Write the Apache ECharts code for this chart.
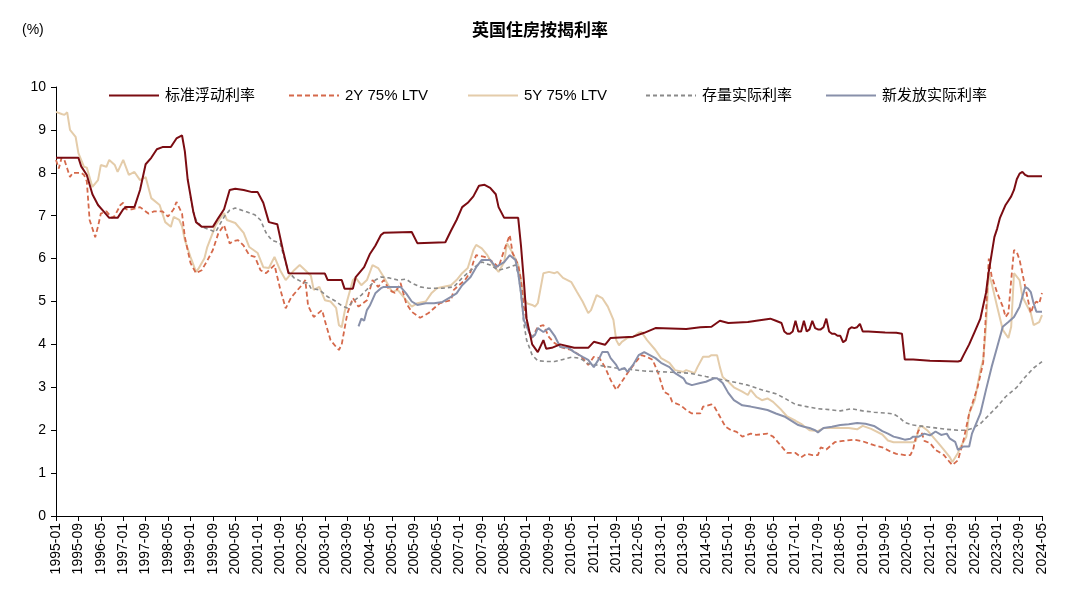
<!DOCTYPE html>
<html>
<head>
<meta charset="utf-8">
<script src="https://cdn.jsdelivr.net/npm/echarts@6/dist/echarts.min.js"></script>
<style>
html,body{margin:0;padding:0;background:#fff;}
#chart{width:1080px;height:604px;}
</style>
</head>
<body>
<div id="chart"></div>
<script>
// Monthly category labels 1995-01 .. 2024-05
const months = [];
for (let y = 1995; y <= 2024; y++) {
  for (let m = 1; m <= 12; m++) {
    if (y === 2024 && m > 5) break;
    months.push(y + '-' + (m < 10 ? '0' + m : m));
  }
}

const seriesNames = ['标准浮动利率', '2Y 75% LTV', '5Y 75% LTV', '存量实际利率', '新发放实际利率'];

// 标准浮动利率
const svr = [
['1995-01',8.35],['1995-09',8.35],['1995-10',8.15],['1995-12',7.95],['1996-02',7.5],['1996-04',7.25],['1996-06',7.1],['1996-08',6.95],['1996-11',6.95],
['1997-01',7.15],['1997-02',7.2],['1997-05',7.2],['1997-07',7.6],['1997-09',8.2],['1997-11',8.35],['1998-01',8.55],['1998-03',8.6],['1998-06',8.6],['1998-08',8.8],['1998-10',8.87],['1998-11',8.5],['1998-12',7.85],
['1999-02',7.1],['1999-03',6.85],['1999-05',6.74],['1999-09',6.74],['1999-11',6.95],['2000-01',7.15],['2000-03',7.6],['2000-05',7.63],['2000-08',7.6],['2000-11',7.55],['2001-01',7.55],['2001-03',7.3],['2001-05',6.85],['2001-08',6.8],['2001-10',6.2],['2001-12',5.66],
['2003-01',5.65],['2003-02',5.5],['2003-07',5.5],['2003-08',5.3],['2003-11',5.3],['2003-12',5.57],['2004-03',5.8],['2004-05',6.1],['2004-07',6.3],['2004-09',6.55],['2004-10',6.6],['2005-08',6.62],['2005-10',6.36],
['2006-08',6.38],['2006-10',6.65],['2006-12',6.9],['2007-02',7.2],['2007-04',7.3],['2007-06',7.45],['2007-08',7.7],['2007-10',7.72],['2007-12',7.65],['2008-02',7.5],['2008-03',7.2],['2008-05',6.95],['2008-10',6.95],['2008-11',6.3],['2008-12',5.5],
['2009-01',4.6],['2009-03',4.0],['2009-05',3.82],['2009-07',4.1],['2009-08',3.9],['2009-10',3.92],['2010-01',4.0],['2010-06',3.92],['2010-11',3.92],['2011-01',4.06],['2011-05',3.99],['2011-07',4.15],['2012-03',4.18],['2012-07',4.27],['2012-11',4.38],
['2013-10',4.36],['2014-03',4.4],['2014-07',4.41],['2014-10',4.55],['2015-01',4.5],['2015-08',4.52],['2015-11',4.55],['2016-04',4.6],['2016-06',4.55],['2016-08',4.5],['2016-09',4.3],['2016-10',4.25],['2016-11',4.25],['2016-12',4.3],
['2017-01',4.55],['2017-02',4.3],['2017-03',4.3],['2017-04',4.55],['2017-05',4.3],['2017-06',4.35],['2017-07',4.55],['2017-08',4.38],['2017-09',4.35],['2017-10',4.35],['2017-11',4.4],['2017-12',4.6],
['2018-01',4.3],['2018-02',4.25],['2018-03',4.25],['2018-04',4.2],['2018-05',4.2],['2018-06',4.05],['2018-07',4.1],['2018-08',4.35],['2018-09',4.4],['2018-10',4.38],['2018-11',4.4],['2018-12',4.48],
['2019-01',4.3],['2019-03',4.3],['2019-09',4.28],['2020-01',4.27],['2020-03',4.25],['2020-04',3.65],['2020-07',3.65],['2021-01',3.62],['2021-11',3.6],['2021-12',3.62],
['2022-01',3.75],['2022-03',4.0],['2022-05',4.3],['2022-07',4.6],['2022-08',4.9],['2022-09',5.2],['2022-10',5.7],['2022-11',6.1],['2022-12',6.5],
['2023-01',6.7],['2023-02',6.95],['2023-03',7.1],['2023-04',7.25],['2023-05',7.35],['2023-06',7.45],['2023-07',7.6],['2023-08',7.85],['2023-09',7.98],['2023-10',8.02],['2023-11',7.95],['2023-12',7.92],['2024-05',7.92]
];

// 2Y 75% LTV
const fix2y = [
['1995-01',8.3],['1995-02',8.1],['1995-03',8.35],['1995-04',8.3],['1995-05',8.1],['1995-06',7.9],['1995-07',8.0],['1995-10',8.0],['1995-11',7.95],['1995-12',7.8],
['1996-01',6.9],['1996-02',6.7],['1996-03',6.5],['1996-04',6.75],['1996-05',7.05],['1996-07',7.1],['1996-09',6.95],['1996-10',7.0],['1996-12',7.25],
['1997-01',7.3],['1997-02',7.15],['1997-04',7.15],['1997-07',7.2],['1997-10',7.05],['1997-12',7.1],['1998-03',7.1],['1998-05',6.98],['1998-07',7.15],['1998-08',7.32],['1998-10',7.05],['1998-11',6.5],['1998-12',6.2],
['1999-01',5.9],['1999-03',5.66],['1999-05',5.73],['1999-07',5.95],['1999-09',6.2],['1999-11',6.6],['2000-01',6.78],['2000-03',6.35],['2000-04',6.4],['2000-06',6.43],['2000-08',6.3],['2000-10',6.08],['2000-12',6.04],
['2001-02',5.73],['2001-04',5.66],['2001-07',5.85],['2001-09',5.3],['2001-11',4.84],['2002-01',5.1],['2002-03',5.25],['2002-05',5.4],['2002-06',5.5],['2002-07',4.9],['2002-09',4.64],['2002-12',4.8],
['2003-01',4.55],['2003-03',4.1],['2003-05',3.94],['2003-06',3.87],['2003-07',4.0],['2003-09',4.72],['2003-11',5.08],['2004-01',4.88],['2004-04',5.03],['2004-06',5.5],['2004-08',5.34],['2004-10',5.5],['2004-12',5.27],
['2005-02',5.2],['2005-04',5.43],['2005-06',4.96],['2005-08',4.76],['2005-11',4.62],['2006-02',4.73],['2006-06',4.96],['2006-10',5.03],['2006-11',5.27],['2007-03',5.5],['2007-05',5.69],['2007-06',5.92],['2007-07',6.08],['2007-10',6.04],
['2008-01',5.92],['2008-03',5.8],['2008-05',6.2],['2008-07',6.55],['2008-08',6.13],['2008-10',5.85],['2008-11',5.5],['2008-12',4.88],['2009-02',4.27],['2009-03',4.15],['2009-05',4.41],['2009-07',4.45],['2009-09',4.17],['2009-11',4.03],
['2010-01',3.94],['2010-03',3.9],['2010-05',3.87],['2010-07',3.79],['2010-09',3.68],['2010-11',3.52],['2011-01',3.71],['2011-03',3.68],['2011-05',3.47],['2011-07',3.17],['2011-09',2.94],['2011-11',3.13],
['2012-01',3.33],['2012-04',3.59],['2012-06',3.75],['2012-08',3.71],['2012-10',3.64],['2012-12',3.33],['2013-02',2.9],['2013-04',2.82],['2013-05',2.66],['2013-08',2.58],['2013-10',2.47],['2013-12',2.39],
['2014-03',2.39],['2014-04',2.55],['2014-07',2.6],['2014-08',2.55],['2014-10',2.32],['2014-12',2.08],['2015-02',2.0],['2015-04',1.96],['2015-06',1.85],['2015-09',1.92],['2015-11',1.89],
['2016-03',1.92],['2016-05',1.85],['2016-07',1.7],['2016-10',1.47],['2017-01',1.47],['2017-03',1.37],['2017-05',1.45],['2017-07',1.42],['2017-09',1.42],['2017-10',1.6],['2017-12',1.55],
['2018-03',1.72],['2018-06',1.75],['2018-10',1.78],['2019-01',1.74],['2019-05',1.65],['2019-08',1.6],['2019-11',1.5],['2020-01',1.45],['2020-04',1.42],['2020-06',1.42],['2020-07',1.55],['2020-08',1.85],['2020-09',2.0],['2020-10',1.95],['2020-11',1.75],
['2021-01',1.7],['2021-03',1.54],['2021-06',1.42],['2021-08',1.26],['2021-09',1.19],['2021-11',1.3],['2022-01',1.77],['2022-03',2.39],['2022-06',3.0],['2022-08',3.57],['2022-09',4.73],['2022-10',6.0],['2022-11',5.6],
['2023-01',5.2],['2023-03',4.88],['2023-04',4.64],['2023-05',4.73],['2023-06',5.5],['2023-07',6.2],['2023-08',6.15],['2023-09',5.97],['2023-11',5.34],['2024-01',4.73],['2024-02',4.92],['2024-03',5.0],['2024-04',4.95],['2024-05',5.2]
];

// 5Y 75% LTV
const fix5y = [
['1995-01',9.42],['1995-03',9.37],['1995-04',9.35],['1995-05',9.41],['1995-06',9.0],['1995-08',8.84],['1995-09',8.46],['1995-11',8.14],['1995-12',8.12],
['1996-02',7.67],['1996-04',7.83],['1996-05',8.18],['1996-07',8.14],['1996-08',8.3],['1996-10',8.18],['1996-11',8.02],['1997-01',8.3],['1997-03',7.95],['1997-05',8.02],['1997-07',7.83],['1997-09',7.9],['1997-11',7.41],
['1998-02',7.25],['1998-04',6.85],['1998-06',6.74],['1998-07',6.97],['1998-09',6.9],['1998-10',6.75],['1998-11',6.43],['1999-01',6.04],['1999-03',5.69],['1999-04',5.78],['1999-06',6.01],['1999-07',6.27],['1999-10',6.78],['1999-12',6.97],
['2000-01',7.06],['2000-02',6.9],['2000-05',6.83],['2000-08',6.6],['2000-10',6.27],['2001-01',6.13],['2001-03',5.8],['2001-05',5.78],['2001-07',6.04],['2001-09',5.73],['2001-11',5.5],
['2002-02',5.73],['2002-04',5.85],['2002-06',5.73],['2002-08',5.6],['2002-09',5.27],['2002-11',5.34],['2003-01',5.03],['2003-03',5.0],['2003-05',4.85],['2003-06',4.45],['2003-07',4.4],['2003-08',4.75],['2003-09',5.03],['2003-11',5.5],['2003-12',5.55],
['2004-02',5.38],['2004-04',5.5],['2004-06',5.85],['2004-08',5.78],['2004-10',5.57],['2005-01',5.22],['2005-03',5.27],['2005-06',5.03],['2005-08',4.88],['2005-10',4.96],
['2006-01',5.0],['2006-03',5.19],['2006-05',5.31],['2006-07',5.34],['2006-10',5.38],['2006-12',5.5],['2007-02',5.66],['2007-04',5.78],['2007-06',6.2],['2007-07',6.32],['2007-09',6.24],['2007-11',6.08],
['2008-01',5.85],['2008-03',5.69],['2008-05',5.92],['2008-06',6.36],['2008-08',6.13],['2008-10',5.85],['2008-11',5.5],['2008-12',5.11],['2009-01',4.96],['2009-03',4.92],['2009-04',4.88],['2009-05',4.96],['2009-07',5.66],['2009-09',5.69],['2009-11',5.66],['2009-12',5.69],
['2010-02',5.55],['2010-05',5.45],['2010-07',5.22],['2010-09',5.0],['2010-11',4.73],['2010-12',4.8],['2011-02',5.15],['2011-04',5.08],['2011-06',4.88],['2011-08',4.57],['2011-09',4.1],['2011-10',3.98],['2011-11',4.06],
['2012-01',4.15],['2012-03',4.17],['2012-05',4.27],['2012-06',4.29],['2012-08',4.1],['2012-11',3.87],['2013-01',3.68],['2013-04',3.57],['2013-06',3.4],['2013-09',3.36],['2013-10',3.4],
['2014-01',3.33],['2014-02',3.47],['2014-04',3.71],['2014-06',3.71],['2014-07',3.75],['2014-09',3.75],['2014-10',3.47],['2014-11',3.24],['2015-01',3.13],['2015-03',3.0],['2015-06',2.9],['2015-08',2.82],['2015-09',2.94],['2015-11',2.78],
['2016-01',2.7],['2016-03',2.74],['2016-05',2.66],['2016-08',2.47],['2016-10',2.32],['2017-01',2.22],['2017-03',2.15],['2017-06',2.0],['2017-09',1.98],['2017-11',2.05],
['2018-02',2.05],['2018-05',2.05],['2018-08',2.05],['2018-11',2.02],['2019-01',2.1],['2019-04',2.03],['2019-08',1.9],['2019-10',1.76],['2019-12',1.72],['2020-03',1.72],['2020-07',1.72],['2020-08',1.75],['2020-09',2.05],['2020-10',2.1],['2020-12',2.0],
['2021-02',1.85],['2021-04',1.7],['2021-06',1.54],['2021-08',1.38],['2021-09',1.26],['2021-11',1.47],['2021-12',1.62],['2022-02',1.85],['2022-03',2.39],['2022-05',2.7],['2022-07',3.4],['2022-08',3.64],['2022-09',4.41],['2022-10',5.66],['2022-11',5.43],
['2023-01',4.88],['2023-03',4.34],['2023-05',4.15],['2023-06',4.41],['2023-07',5.66],['2023-09',5.5],['2023-10',5.11],['2024-01',4.73],['2024-02',4.45],['2024-04',4.52],['2024-05',4.68]
];

// 存量实际利率
const stockRate = [
['1999-01',7.44],['1999-02',7.1],['1999-03',6.9],['1999-05',6.74],['1999-08',6.67],['1999-10',6.62],['1999-11',6.74],['2000-01',6.97],['2000-03',7.13],['2000-05',7.18],['2000-09',7.09],['2000-12',7.02],
['2001-02',6.9],['2001-04',6.6],['2001-06',6.43],['2001-09',6.36],['2001-10',6.13],['2001-12',5.69],['2002-02',5.55],['2002-05',5.45],['2002-07',5.43],['2002-08',5.31],['2002-11',5.27],
['2003-02',5.11],['2003-05',5.0],['2003-07',4.9],['2003-09',4.85],['2003-11',5.0],['2004-02',5.15],['2004-04',5.28],['2004-07',5.5],['2004-09',5.57],['2004-12',5.55],
['2005-03',5.5],['2005-06',5.52],['2005-08',5.43],['2005-11',5.34],['2006-02',5.31],['2006-07',5.31],['2006-11',5.34],['2007-02',5.55],['2007-06',5.78],['2007-09',5.92],['2007-12',5.85],
['2008-03',5.73],['2008-06',5.78],['2008-09',5.85],['2008-10',5.66],['2008-11',5.19],['2008-12',4.5],['2009-01',4.1],['2009-03',3.75],['2009-05',3.62],['2009-08',3.6],['2009-11',3.6],
['2010-02',3.65],['2010-05',3.7],['2010-08',3.68],['2010-11',3.55],['2011-04',3.5],['2011-09',3.45],['2012-07',3.38],['2013-05',3.35],['2013-11',3.33],['2014-05',3.25],
['2015-01',3.15],['2015-08',3.05],['2016-02',2.92],['2016-06',2.85],['2016-09',2.75],['2017-01',2.6],['2017-05',2.55],['2017-09',2.5],['2018-01',2.48],['2018-05',2.45],['2018-09',2.5],
['2019-01',2.45],['2019-05',2.42],['2019-09',2.4],['2019-12',2.38],['2020-02',2.3],['2020-04',2.18],['2020-07',2.12],['2021-01',2.07],['2021-07',2.02],['2021-11',2.0],
['2022-02',2.0],['2022-04',2.04],['2022-07',2.15],['2022-10',2.35],['2023-01',2.55],['2023-04',2.78],['2023-08',3.0],['2023-11',3.24],['2024-02',3.45],['2024-05',3.6]
];

// 新发放实际利率
const newRate = [
['2004-01',4.42],['2004-02',4.6],['2004-03',4.55],['2004-04',4.8],['2004-05',4.9],['2004-07',5.19],['2004-09',5.31],['2004-10',5.34],['2005-01',5.34],['2005-04',5.34],['2005-06',5.19],['2005-08',5.0],['2005-10',4.92],
['2006-01',4.96],['2006-04',4.96],['2006-07',4.99],['2006-10',5.11],['2006-12',5.19],['2007-02',5.38],['2007-05',5.57],['2007-07',5.8],['2007-09',5.97],['2007-12',5.97],
['2008-02',5.8],['2008-05',5.92],['2008-07',6.08],['2008-09',5.97],['2008-10',5.66],['2008-11',5.19],['2008-12',4.57],['2009-02',4.27],['2009-03',4.17],['2009-04',4.22],['2009-05',4.38],['2009-07',4.29],['2009-09',4.38],['2009-11',4.2],
['2010-01',3.94],['2010-04',3.92],['2010-06',3.82],['2010-09',3.71],['2010-11',3.64],['2011-01',3.47],['2011-03',3.68],['2011-04',3.82],['2011-06',3.82],['2011-07',3.68],['2011-09',3.52],['2011-10',3.4],['2011-12',3.45],
['2012-01',3.36],['2012-03',3.52],['2012-05',3.75],['2012-07',3.82],['2012-09',3.75],['2012-11',3.68],['2013-01',3.57],['2013-04',3.47],['2013-06',3.33],['2013-09',3.21],['2013-10',3.1],['2013-12',3.05],
['2014-03',3.1],['2014-05',3.13],['2014-08',3.21],['2014-09',3.21],['2014-11',3.1],['2015-01',2.87],['2015-03',2.7],['2015-06',2.58],['2015-09',2.55],['2015-12',2.51],
['2016-03',2.47],['2016-06',2.39],['2016-09',2.32],['2016-12',2.2],['2017-02',2.12],['2017-04',2.08],['2017-06',2.05],['2017-08',2.0],['2017-09',1.95],['2017-11',2.05],
['2018-02',2.08],['2018-05',2.12],['2018-08',2.14],['2018-11',2.17],['2019-02',2.15],['2019-05',2.1],['2019-08',1.98],['2019-10',1.92],['2019-12',1.85],['2020-02',1.82],['2020-04',1.78],['2020-06',1.8],['2020-07',1.85],['2020-09',1.85],['2020-11',1.92],
['2021-01',1.88],['2021-03',1.97],['2021-05',1.89],['2021-07',1.92],['2021-08',1.81],['2021-10',1.73],['2021-11',1.54],['2022-01',1.62],['2022-03',1.62],['2022-04',1.92],['2022-07',2.39],['2022-09',2.94],['2022-11',3.47],
['2023-01',3.94],['2023-03',4.41],['2023-05',4.52],['2023-07',4.64],['2023-09',4.88],['2023-10',5.11],['2023-11',5.34],['2023-12',5.3],['2024-01',5.22],['2024-02',4.96],['2024-03',4.76],['2024-05',4.76]
];

const FONT = '"Liberation Sans", Arial, "Noto Sans CJK SC", sans-serif';
const COLORS = ['#7B0C12', '#D5694B', '#E4CCAA', '#8A8A8A', '#8890AA'];
const legendLefts = [108, 288, 467, 645, 825];

const legends = seriesNames.map((n, i) => ({
  data: [n],
  top: 88, left: legendLefts[i], padding: 0,
  itemWidth: 50, itemHeight: 12, itemGap: 0,
  itemStyle: {opacity: 0},
  textStyle: {fontSize: 15, color: '#000', fontFamily: FONT, padding: [0, 0, 0, 1]}
}));

const chart = echarts.init(document.getElementById('chart'), null, {renderer: 'canvas'});
chart.setOption({
  animation: false,
  backgroundColor: '#ffffff',
  textStyle: {fontFamily: FONT},
  title: [
    {text: '英国住房按揭利率', left: 'center', top: 16,
     textStyle: {fontSize: 17, fontWeight: 'bold', color: '#000', fontFamily: '"Noto Sans CJK SC", sans-serif'}},
    {text: '(%)', left: 17, top: 18,
     textStyle: {fontSize: 14, fontWeight: 'normal', color: '#000', fontFamily: FONT}}
  ],
  legend: legends,
  grid: {left: 56, right: 38, top: 87, bottom: 88, containLabel: false},
  xAxis: {
    type: 'category', data: months, boundaryGap: false,
    axisLine: {lineStyle: {color: '#000', width: 1}},
    axisTick: {interval: 7, length: 5, lineStyle: {color: '#000'}},
    axisLabel: {interval: 7, rotate: 90, fontSize: 14, color: '#000', margin: 7, fontFamily: FONT},
    splitLine: {show: false}
  },
  yAxis: {
    type: 'value', min: 0, max: 10, interval: 1,
    axisLine: {show: true, lineStyle: {color: '#000', width: 1}},
    axisTick: {show: true, length: 5, lineStyle: {color: '#000'}},
    axisLabel: {fontSize: 14, color: '#000', margin: 10, fontFamily: FONT},
    splitLine: {show: false}
  },
  series: [
    {name: seriesNames[0], type: 'line', data: svr, symbol: 'none', z: 5,
     lineStyle: {color: COLORS[0], width: 2}, itemStyle: {color: COLORS[0]}},
    {name: seriesNames[1], type: 'line', data: fix2y, symbol: 'none', z: 3,
     lineStyle: {color: COLORS[1], width: 1.8, type: [5, 3]}, itemStyle: {color: COLORS[1]}},
    {name: seriesNames[2], type: 'line', data: fix5y, symbol: 'none', z: 2,
     lineStyle: {color: COLORS[2], width: 2}, itemStyle: {color: COLORS[2]}},
    {name: seriesNames[3], type: 'line', data: stockRate, symbol: 'none', z: 3,
     lineStyle: {color: COLORS[3], width: 1.6, type: [4, 3]}, itemStyle: {color: COLORS[3]}},
    {name: seriesNames[4], type: 'line', data: newRate, symbol: 'none', z: 4,
     lineStyle: {color: COLORS[4], width: 2}, itemStyle: {color: COLORS[4]}}
  ]
});
</script>
</body>
</html>
